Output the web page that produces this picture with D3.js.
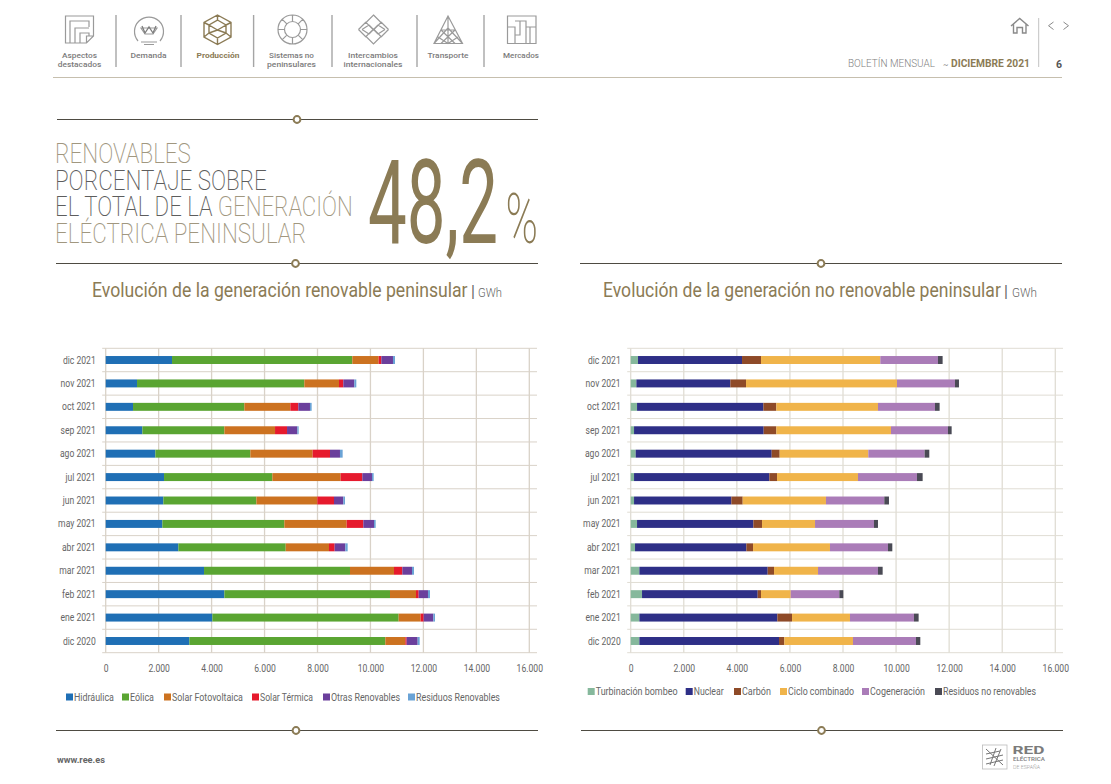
<!DOCTYPE html>
<html lang="es">
<head>
<meta charset="utf-8">
<title>Boletín mensual - diciembre 2021</title>
<script src="https://cdnjs.cloudflare.com/ajax/libs/d3/7.8.5/d3.min.js"></script>
<style>
  html, body { margin: 0; padding: 0; background: #fff; }
  svg { display: block; }
  text { font-family: Roboto, sans-serif; }
</style>
</head>
<body>
<svg id="page" width="1111" height="784"></svg>
<script>
// months, top row first
const months = ["dic 2021", "nov 2021", "oct 2021", "sep 2021", "ago 2021", "jul 2021", "jun 2021",
                "may 2021", "abr 2021", "mar 2021", "feb 2021", "ene 2021", "dic 2020"];
const xTicks = [0, 2000, 4000, 6000, 8000, 10000, 12000, 14000, 16000];
const xTickLabels = ["0", "2.000", "4.000", "6.000", "8.000", "10.000", "12.000", "14.000", "16.000"];

// renovable, GWh
const hidraulica = [2505, 1183, 1032, 1385, 1876, 2203, 2178, 2140, 2745, 3714, 4482, 4029, 3160];
const eolica     = [6810, 6319, 4205, 3097, 3588, 4092, 3513, 4608, 4054, 5513, 6256, 7036, 7402];
const solarFv    = [995, 1310, 1738, 1914, 2353, 2580, 2302, 2353, 1635, 1662, 982, 831, 755];
const solarTerm  = [101, 163, 301, 453, 655, 818, 630, 630, 214, 315, 101, 114, 51];
const otrasRen   = [440, 416, 440, 390, 377, 365, 352, 403, 403, 365, 352, 364, 415];
const residRen   = [76, 75, 63, 49, 101, 63, 63, 63, 88, 75, 76, 64, 76];

// no renovable, GWh
const turbinacion = [276, 214, 239, 126, 188, 126, 126, 239, 163, 327, 427, 327, 327];
const nuclear     = [3919, 3541, 4760, 4885, 5125, 5099, 3667, 4383, 4195, 4835, 4358, 5199, 5262];
const carbon      = [716, 591, 490, 478, 301, 289, 427, 327, 252, 239, 126, 553, 201];
const cicloComb   = [4495, 5688, 3829, 4319, 3340, 3050, 3138, 1997, 2899, 1658, 1118, 2184, 2586];
const cogen       = [2173, 2185, 2148, 2147, 2122, 2223, 2198, 2221, 2186, 2259, 1832, 2411, 2374];
const residNoRen  = [175, 151, 175, 139, 176, 214, 176, 151, 163, 176, 151, 176, 163];

const gold = "#8b7b55";
const tan = "#a1977f";
const iconGrey = "#9a9a9a";
const narrow = 0.78; // no condensed font here, so glyphs get squeezed

const svg = d3.select("#page");

// horizontal squeeze that keeps the text box honest
function squeeze(sel, factor) {
  sel.attr("transform", `scale(${factor},1)`);
}

// text squeezed to the width measured on the page
function label(parent, x, y, str, size, color, width, opts) {
  opts = opts || {};
  const t = parent.append("text")
    .attr("font-size", size)
    .attr("fill", color)
    .text(str);
  if (opts.weight) t.attr("font-weight", opts.weight);
  if (opts.anchor) t.attr("text-anchor", opts.anchor);
  if (opts.parts) {
    t.text(null);
    opts.parts.forEach(p => t.append("tspan").attr("fill", p[1]).text(p[0]));
  }
  const sx = width ? width / t.node().getComputedTextLength() : 1;
  t.attr("transform", `translate(${x},${y}) scale(${sx},1)`);
  return t;
}

function drawChart(cfg) {
  const g = svg.append("g");
  const x = d3.scaleLinear().domain([0, 16000]).range([cfg.x0, cfg.x1]);
  const y = d3.scaleBand().domain(months).range([348.3, 652.7]).paddingInner(0.66).paddingOuter(0.33);
  const step = y.step();

  // row separators
  const rows = d3.range(months.length + 1);
  g.append("g").selectAll("line").data(rows).join("line")
    .attr("x1", cfg.x0 - 3.5).attr("x2", cfg.right)
    .attr("y1", d => 348.3 + d * step).attr("y2", d => 348.3 + d * step)
    .attr("stroke", cfg.grid).attr("stroke-width", 1);

  // vertical grid
  g.append("g").selectAll("line").data(xTicks).join("line")
    .attr("x1", d => x(d)).attr("x2", d => x(d))
    .attr("y1", 348.3).attr("y2", 652.7)
    .attr("stroke", cfg.grid).attr("stroke-width", 1.3);

  const keys = cfg.series.map(s => s.name);
  const rowsData = months.map((m, i) => {
    const o = { month: m };
    cfg.series.forEach(s => { o[s.name] = s.values[i]; });
    return o;
  });
  const stacked = d3.stack().keys(keys)(rowsData);

  g.append("g").selectAll("g").data(stacked).join("g")
    .attr("fill", (d, i) => cfg.series[i].color)
    .selectAll("rect").data(d => d).join("rect")
    .attr("x", d => x(d[0]))
    .attr("width", d => x(d[1]) - x(d[0]))
    .attr("y", d => y(d.data.month))
    .attr("height", y.bandwidth());

  // axes, only their labels are kept
  const yAxis = g.append("g").attr("transform", `translate(${cfg.x0 - 10},0)`)
    .call(d3.axisLeft(y).tickSize(0).tickPadding(0));
  const xAxis = g.append("g").attr("transform", "translate(0,652.7)")
    .call(d3.axisBottom(x).tickValues(xTicks).tickFormat((d, i) => xTickLabels[i]).tickSize(0).tickPadding(11));
  [yAxis, xAxis].forEach(a => {
    a.select(".domain").remove();
    a.selectAll("text")
      .style("font-family", "Roboto, sans-serif")
      .attr("font-size", 11).attr("font-weight", 400).attr("fill", "#666")
      .call(squeeze, narrow);
  });

  // legend
  const legend = g.append("g").selectAll("g").data(cfg.series).join("g")
    .attr("transform", d => `translate(${d.lx},${cfg.legendY})`);
  legend.append("rect").attr("width", 7).attr("height", 7).attr("y", -3.5).attr("fill", d => d.color);
  legend.each(function (d) {
    label(d3.select(this), 8, 3.8, d.name, 10.5, "#666", d.lw);
  });
}

drawChart({
  x0: 105.7, x1: 529.3, right: 537, grid: "#d9d2c8", legendY: 697,
  series: [
    { name: "Hidráulica", values: hidraulica, color: "#1f6fb5", lx: 66, lw: 40 },
    { name: "Eólica", values: eolica, color: "#5aa532", lx: 122, lw: 24 },
    { name: "Solar Fotovoltaica", values: solarFv, color: "#cc7220", lx: 164, lw: 71 },
    { name: "Solar Térmica", values: solarTerm, color: "#e61a2d", lx: 252, lw: 53 },
    { name: "Otras Renovables", values: otrasRen, color: "#6b3f9c", lx: 323, lw: 69 },
    { name: "Residuos Renovables", values: residRen, color: "#6aa3d6", lx: 408, lw: 84 }
  ]
});
drawChart({
  x0: 630.7, x1: 1055.3, right: 1063, grid: "#e0ddd4", legendY: 691.5,
  series: [
    { name: "Turbinación bombeo", values: turbinacion, color: "#86b89c", lx: 587.7, lw: 82 },
    { name: "Nuclear", values: nuclear, color: "#2e2f87", lx: 685.7, lw: 30 },
    { name: "Carbón", values: carbon, color: "#8e4a28", lx: 734, lw: 29 },
    { name: "Ciclo combinado", values: cicloComb, color: "#f0b44a", lx: 780, lw: 66 },
    { name: "Cogeneración", values: cogen, color: "#aa7cb8", lx: 862, lw: 55 },
    { name: "Residuos no renovables", values: residNoRen, color: "#4a4a55", lx: 935, lw: 93 }
  ]
});

// titles
const titles = svg.append("g");
label(titles, 92, 297, "Evolución de la generación renovable peninsular", 20.5, gold, 376);
label(titles, 471, 297, "|", 16, "#666");
label(titles, 478, 297, "GWh", 12, "#666", 24, { weight: 300 });
label(titles, 603, 297, "Evolución de la generación no renovable peninsular", 20.5, gold, 398);
label(titles, 1004, 297, "|", 16, "#666");
label(titles, 1012, 297, "GWh", 12, "#666", 25, { weight: 300 });

// headline
const head = svg.append("g");
const light = { weight: 200 };
label(head, 55, 163, "RENOVABLES", 28, tan, 136, light);
label(head, 55, 190, "PORCENTAJE SOBRE", 28, "#5d5d5d", 212, light);
label(head, 55, 216, "", 28, "#5d5d5d", 298, {
  weight: 200,
  parts: [["EL TOTAL DE LA ", "#5d5d5d"], ["GENERACIÓN", tan]]
});
label(head, 55, 243, "ELÉCTRICA PENINSULAR", 28, tan, 251, light);
label(head, 368, 243, "48,2", 117, gold, 130, { weight: 400 });
label(head, 505.5, 243, "%", 70, gold, 32.5, { weight: 200 });

// separators with the little ring
const seps = [[57, 538, 119.5, 297], [56, 538, 263.5, 295.5], [580, 1062, 263.5, 821],
              [56, 538, 730.5, 296], [581, 1063, 730.5, 821.5]];
const sepG = svg.append("g").selectAll("g").data(seps).join("g");
sepG.append("line")
  .attr("x1", d => d[0]).attr("x2", d => d[1]).attr("y1", d => d[2]).attr("y2", d => d[2])
  .attr("stroke", "#4e4b42").attr("stroke-width", 1.1);
sepG.append("circle")
  .attr("cx", d => d[3]).attr("cy", d => d[2]).attr("r", 3.4)
  .attr("fill", "#fff").attr("stroke", gold).attr("stroke-width", 2);

// top navigation
const nav = svg.append("g");
nav.append("line").attr("x1", 53).attr("x2", 1062).attr("y1", 77.5).attr("y2", 77.5)
  .attr("stroke", "#c6bfae").attr("stroke-width", 1);
[116, 181, 253.6, 332, 417, 484].forEach(sx => {
  nav.append("line").attr("x1", sx).attr("x2", sx).attr("y1", 15).attr("y2", 67)
    .attr("stroke", "#a5a5a5").attr("stroke-width", 1.4);
});

const navLabels = [
  { cx: 79.5, lines: ["Aspectos", "destacados"], w: [35, 43.5] },
  { cx: 148.5, lines: ["Demanda"], w: [36] },
  { cx: 218, lines: ["Producción"], w: [43], on: true },
  { cx: 291.5, lines: ["Sistemas no", "peninsulares"], w: [45, 49] },
  { cx: 373, lines: ["Intercambios", "internacionales"], w: [50, 59] },
  { cx: 448, lines: ["Transporte"], w: [41] },
  { cx: 521, lines: ["Mercados"], w: [36] }
];
navLabels.forEach(n => {
  n.lines.forEach((s, i) => {
    label(nav, n.cx, 58 + i * 8.5, s, 8, n.on ? gold : "#7c7c7c", n.w[i], {
      anchor: "middle", weight: n.on ? 700 : 500
    });
  });
});

// icons, drawn in page coordinates
function icon(paths, color, width) {
  nav.append("path").attr("d", paths).attr("fill", "none")
    .attr("stroke", color || iconGrey).attr("stroke-width", width || 1.2);
}
icon("M65.5 16H93.5V36L86.5 43H65.5ZM70 43V21H89V27M75 43V28H89M86.5 43V36H93.5M80 43V33H89V36");
icon("M138 41A14.5 14.5 0 1 1 160 41M141 42H157M144 44.5H154M141 28H157L153 34H145Z");
nav.append("path").attr("d", "M142 26L145 33L149 27L153 33L156 26").attr("fill", "none")
  .attr("stroke", "#7c7c7c").attr("stroke-width", 1.3);
icon("M217.5 15L231 22.5V37L217.5 44.5L204 37V22.5ZM217.5 15V20L209 25L217.5 30L226 25L217.5 20M204 22.5L209 25M231 22.5L226 25M209 25V33L217.5 38L226 33V25M217.5 30L209 33M217.5 30L226 33M217.5 38V44.5M204 37L209 33M231 37L226 33",
  gold, 1.4);
icon("M307 29.5A14.5 14.5 0 1 1 278 29.5A14.5 14.5 0 1 1 307 29.5ZM300.5 29.5A8 8 0 1 1 284.5 29.5A8 8 0 1 1 300.5 29.5ZM292.5 15V21.5M292.5 37.5V44M278 29.5H284.5M300.5 29.5H307M282.3 19.3L286.8 23.8M298.2 35.2L302.7 39.7M302.7 19.3L298.2 23.8M286.8 35.2L282.3 39.7");
icon("M373.5 15L381 22.5L373.5 30L366 22.5ZM373.5 29L381 36.5L373.5 44L366 36.5ZM358.5 29.5L366 22M358.5 29.5L366 37M388.5 29.5L381 22M388.5 29.5L381 37M369 25L378 34M378 25L369 34M362 29.5L369 25M385 29.5L378 25M362 29.5L369 34M385 29.5L378 34");
icon("M448 16L462.5 43.5H434ZM448 16V43.5M448 28L434 43.5M448 28L462.5 43.5M441 30L455 30M438 37L448 43.5L458 37M441 30L455 43.5M455 30L441 43.5");
icon("M507.5 16H536V43.5H507.5ZM507.5 27H515V43.5M515 21H526V43.5M520 21V35H515M526 27H536M530 27V43.5");

// top right block
nav.append("path").attr("d", "M1011 26L1019.7 18.5L1028.5 26M1013.5 24V33H1017V27.5H1022.5V33H1026V24")
  .attr("fill", "none").attr("stroke", "#8a8a8a").attr("stroke-width", 1.4);
nav.append("line").attr("x1", 1038.7).attr("x2", 1038.7).attr("y1", 18).attr("y2", 67)
  .attr("stroke", "#c2c2c2").attr("stroke-width", 1);
nav.append("path").attr("d", "M1053.5 22L1048.5 25.7L1053.5 29.5M1063.5 22L1068.5 25.7L1063.5 29.5")
  .attr("fill", "none").attr("stroke", "#8a8a8a").attr("stroke-width", 1);
label(nav, 848, 66.5, "BOLETÍN MENSUAL", 10, "#7f7f7f", 87, { weight: 300 });
label(nav, 943, 66.5, "~", 8, "#7f7f7f");
label(nav, 951, 66.5, "DICIEMBRE 2021", 10, gold, 79, { weight: 700 });
label(nav, 1056, 67.5, "6", 10.5, "#555", null, { weight: 700 });

// footer
const foot = svg.append("g");
label(foot, 57, 762.5, "www.ree.es", 9, "#666", 48, { weight: 700 });
foot.append("rect").attr("x", 982.5).attr("y", 745).attr("width", 24.5).attr("height", 24)
  .attr("fill", "#fff").attr("stroke", "#bbb").attr("stroke-width", 0.8);
foot.append("path").attr("d", "M986 749L1003 765M986 754L1000 751M986 759L1003 755M990 765L996 748M994 766L1001 749M986 764L1003 760")
  .attr("fill", "none").attr("stroke", "#777").attr("stroke-width", 1);
label(foot, 1012.5, 753.5, "RED", 10, "#7b7b7b", 32, { weight: 700 });
label(foot, 1013, 761, "ELÉCTRICA", 6, "#7b7b7b", 32, { weight: 500 });
label(foot, 1013, 768.5, "DE ESPAÑA", 6, "#9a9a9a", 27, { weight: 300 });
</script>
</body>
</html>
